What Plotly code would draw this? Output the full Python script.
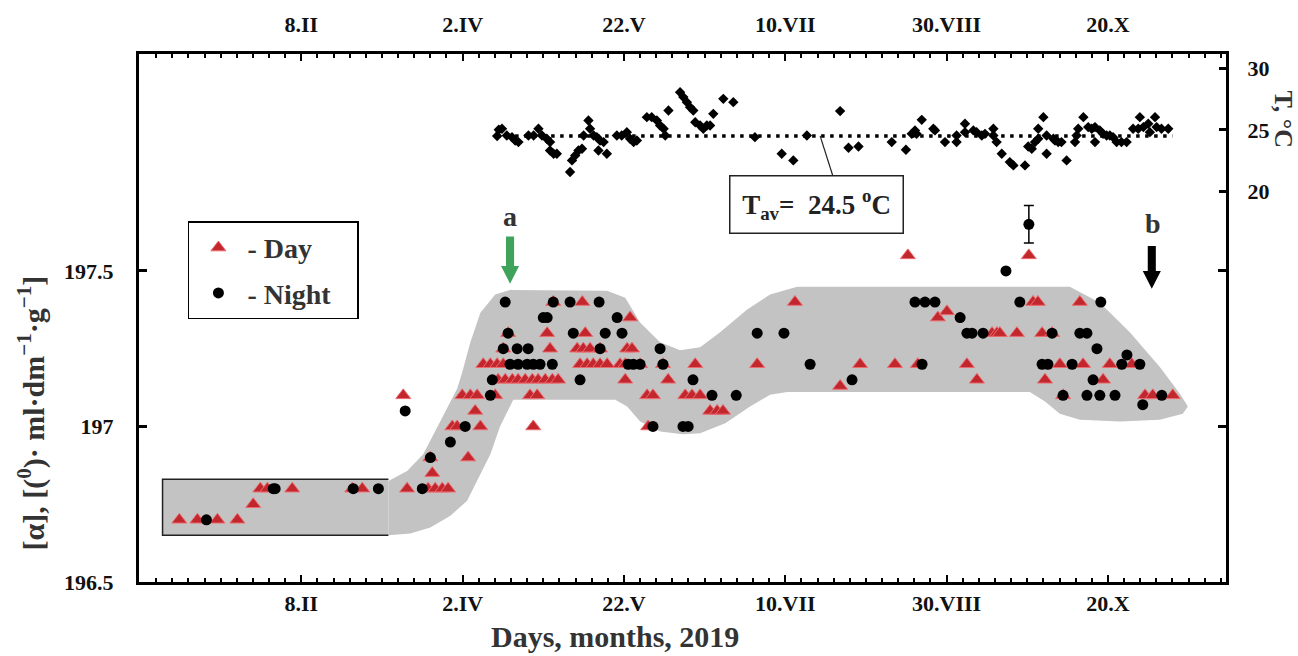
import plotly.graph_objects as go

# ---------------- data ----------------
tick_days = [40, 90, 140, 190, 240, 290]
tick_labels = ["8.II", "2.IV", "22.V", "10.VII", "30.VIII", "20.X"]
alpha_ticks = [196.5, 197, 197.5]
alpha_tick_labels = ["196.5", "197", "197.5"]
temp_ticks = [20, 25, 30]

# Day (triangles): (value, [days])
day_rows = [
    (196.70, [2.2, 7.8, 14.0, 20.2]),
    (196.75, [25.1]),
    (196.80, [27.3, 29.5, 37.2, 55.8, 58.9, 72.8, 79.3, 81.5, 83.7, 85.5]),
    (196.85, [80.6]),
    (196.90, [80.0, 91.7]),
    (197.00, [86.8, 88.3, 95.5, 111.9, 147.5]),
    (197.05, [93.9, 166.7, 168.9, 170.7]),
    (197.10, [71.6, 89.9, 92.4, 94.5, 100.1, 110.9, 113.1, 147.2, 149.0, 159.0, 161.1, 163.6,
              276.1, 301.5, 303.9, 310.1]),
    (197.13, [207.0]),
    (197.15, [101.0, 103.2, 105.4, 107.2, 109.4, 111.6, 113.4, 115.6, 117.8, 119.6, 140.4, 153.7,
              249.4, 270.5, 288.5]),
    (197.20, [96.4, 98.6, 100.7, 102.6, 126.4, 128.6, 130.5, 132.6, 134.8, 138.8, 140.4, 145.0,
              152.1, 162.1, 181.3, 213.2, 224.0, 231.1, 246.3, 275.1, 282.3, 290.6, 297.4]),
    (197.25, [102.6, 117.1, 125.5, 127.4, 129.5, 132.6, 141.0, 142.5]),
    (197.30, [104.1, 116.2, 128.0, 254.1, 255.6, 256.5, 261.8, 269.6, 272.7]),
    (197.35, [141.9, 237.3]),
    (197.37, [240.1]),
    (197.40, [118.1, 127.1, 193.0, 266.8, 268.3, 281.3]),
    (197.55, [228.0, 265.5]),
]

# Night (circles): (value, [days])
night_rows = [
    (196.70, [10.6]),
    (196.80, [31.3, 31.9, 56.1, 63.9, 77.5]),
    (196.90, [80.0]),
    (196.95, [86.2]),
    (197.00, [90.8, 149.0, 158.3, 159.9]),
    (197.05, [72.2]),
    (197.07, [300.8]),
    (197.10, [98.6, 167.3, 174.8, 276.1, 283.5, 287.5, 292.2, 306.7]),
    (197.15, [99.2, 126.4, 161.4, 210.7, 285.4]),
    (197.20, [104.7, 107.2, 110.0, 111.9, 114.0, 117.8, 141.3, 142.9, 145.0, 152.1,
              197.7, 232.4, 269.6, 271.4, 278.9, 294.3, 299.9]),
    (197.23, [295.9]),
    (197.25, [102.6, 106.9, 110.3, 132.6, 151.2, 286.6]),
    (197.30, [104.1, 124.3, 134.2, 139.4, 181.3, 189.6, 246.3, 247.9, 251.3, 272.7, 281.3, 283.5]),
    (197.35, [115.0, 116.2, 137.9, 244.2]),
    (197.40, [103.2, 118.1, 123.3, 132.3, 230.2, 233.3, 236.4, 262.7, 287.8]),
    (197.50, [258.4]),
]
night_err_day = [265.5]
night_err_val = [197.65]
night_err_size = [0.06]

# Temperature (right axis)
temp_day = [100.7, 101.2, 102.2, 103.7, 105.3, 106.3, 107.3, 110.4, 112.0, 113.5, 114.6, 116.1, 117.1,
            117.1, 118.2, 119.2, 123.3, 123.9, 124.9, 125.9, 127.0, 127.5, 129.0, 129.5, 130.6, 131.6,
            132.1, 132.6, 133.7, 134.7, 137.8, 139.3, 140.9, 141.9, 143.0, 144.0, 147.1, 148.6, 150.2,
            151.2, 152.3, 152.8, 153.8, 157.4, 158.4, 159.5, 160.5, 161.5, 162.1, 163.6, 164.6, 165.7,
            166.7, 167.7, 170.8, 173.9, 180.6, 188.9, 192.5, 196.7,
            207.0, 209.6, 212.7, 223.0, 227.4, 229.2, 230.2, 230.7, 232.3, 235.9, 236.4, 239.5, 243.1,
            243.1, 245.7, 245.7, 248.3, 249.3, 250.9, 251.9, 254.5, 254.5, 255.5, 257.1, 259.6, 260.7,
            264.3, 265.3, 266.4, 267.4, 268.4, 268.4, 270.0, 271.0, 271.0, 273.1, 273.6, 274.6, 275.6,
            277.2, 279.8, 280.3, 280.8, 282.4, 283.9, 285.0, 286.0, 286.0, 287.5, 288.5, 289.6, 290.6,
            291.6, 292.7, 294.2, 295.8, 297.8, 299.4, 299.9, 301.0, 302.5, 303.0, 304.6, 305.1, 306.6,
            308.7]
temp_val = [24.5, 25.0, 25.08, 24.54, 24.40, 24.13, 24.0, 24.54, 24.54, 25.08, 24.54, 24.27, 24.0,
            23.32, 23.05, 23.05, 21.56, 22.51, 22.91, 23.32, 23.46, 24.54, 25.76, 25.08, 24.54, 24.40,
            23.32, 24.13, 24.0, 23.05, 24.54, 24.54, 24.81, 24.27, 24.0, 24.13, 26.03, 26.03, 25.76,
            25.35, 25.08, 24.54, 26.57, 28.06, 27.66, 27.25, 26.84, 26.57, 25.62, 25.35, 25.08, 25.35,
            25.35, 26.30, 27.52, 27.25, 24.40, 23.05, 22.51, 24.54,
            26.52, 23.54, 23.64, 24.0, 23.37, 24.67, 24.95, 24.67, 25.81, 25.08, 24.95, 24.0, 24.0,
            24.54, 25.49, 24.81, 24.95, 24.81, 24.54, 24.67, 25.08, 24.54, 24.0, 23.05, 22.37, 22.10,
            22.10, 23.64, 23.46, 24.0, 24.27, 25.08, 26.03, 24.54, 23.05, 24.27, 24.13, 24.0, 24.0,
            22.51, 24.0, 24.54, 25.08, 26.03, 25.22, 25.08, 24.0, 25.22, 24.95, 24.67, 24.54, 24.54,
            24.40, 24.0, 24.0, 24.0, 25.08, 25.08, 26.03, 25.22, 25.49, 24.81, 26.03, 25.22, 25.08,
            25.08]
temp_avg = 24.5
temp_avg_span = [100.7, 310.0]

# Grey envelope of the data
band_day = [67.0, 72.8, 77.8, 83.1, 88.3, 89.9, 92.4, 95.5, 100.1, 104.7, 134.8, 140.4, 145.0,
            151.2, 157.4, 163.6, 169.8, 178.2, 185.3, 193.7, 278.2, 287.5, 296.8, 306.1, 312.3,
            314.8, 313.2, 306.1, 293.7, 281.3, 275.1, 270.5, 265.8, 190.6, 185.3, 179.1, 171.4,
            163.6, 158.3, 151.2, 145.0, 141.0, 137.3, 105.7, 103.8, 101.6, 98.6, 94.5, 91.4, 86.2,
            80.0, 73.8, 67.0]
band_val = [196.825, 196.857, 196.911, 197.016, 197.121, 197.175, 197.271, 197.366, 197.424,
            197.439, 197.436, 197.414, 197.334, 197.271, 197.245, 197.255, 197.303, 197.376,
            197.424, 197.449, 197.449, 197.398, 197.303, 197.191, 197.105, 197.064, 197.041,
            197.022, 197.016, 197.022, 197.041, 197.080, 197.111, 197.111, 197.102, 197.064,
            197.010, 196.978, 196.975, 196.984, 197.016, 197.064, 197.086, 197.086, 197.048,
            197.0, 196.911, 196.825, 196.761, 196.713, 196.675, 196.656, 196.650]
box_day = [-3.0, 67.0]
box_val = [196.65, 196.83]

# ---------------- figure ----------------
FONT = "Liberation Serif, Times New Roman, Tinos, DejaVu Serif, serif"
GREY = "#c3c3c3"
TXT = "#333333"
NB = "\u00a0"

day_x = [d for v, ds in day_rows for d in ds]
day_y = [v for v, ds in day_rows for d in ds]
night_x = [d for v, ds in night_rows for d in ds]
night_y = [v for v, ds in night_rows for d in ds]

fig = go.Figure()

fig.add_trace(go.Scatter(x=band_day, y=band_val, mode="lines", fill="toself", fillcolor=GREY,
                         line=dict(width=0, color=GREY), showlegend=False, hoverinfo="skip"))

fig.add_trace(go.Scatter(x=day_x, y=day_y, mode="markers", name="- Day", legendgroup="d",
                         marker=dict(symbol="triangle-up", size=13, color="#c1272d",
                                     line=dict(color="#ec6b6f", width=1))))
fig.add_trace(go.Scatter(x=night_x, y=night_y, mode="markers", name="- Night" + NB * 3,
                         legendgroup="n",
                         marker=dict(symbol="circle", size=11, color="black",
                                     line=dict(color="black", width=0))))
fig.add_trace(go.Scatter(x=night_err_day, y=night_err_val, mode="markers", showlegend=False,
                         marker=dict(symbol="circle", size=11, color="black"),
                         error_y=dict(type="data", array=night_err_size, color="black",
                                      thickness=1.5, width=5)))

fig.add_trace(go.Scatter(x=temp_avg_span, y=[temp_avg, temp_avg], mode="lines", yaxis="y2",
                         line=dict(color="black", width=3.5, dash="3.5px,5.5px"),
                         showlegend=False, hoverinfo="skip"))
fig.add_trace(go.Scatter(x=temp_day, y=temp_val, mode="markers", yaxis="y2", showlegend=False,
                         marker=dict(symbol="diamond", size=8, color="black")))
# top axis carrier
fig.add_trace(go.Scatter(x=temp_avg_span, y=[temp_avg, temp_avg], xaxis="x2", yaxis="y2",
                         mode="lines", line=dict(width=0), opacity=0, showlegend=False,
                         hoverinfo="skip"))

xr = [-10.3, 326.6]
minor_vals = list(range(-5, 326, 5))
tickfont = dict(family=FONT, size=22, color="#111111", weight="bold")
axis_common = dict(range=xr, tickmode="array", tickvals=tick_days, ticktext=tick_labels,
                   ticks="inside", ticklen=7, tickwidth=2, tickcolor="black",
                   showline=True, linecolor="black", linewidth=3, showgrid=False,
                   zeroline=False, tickfont=tickfont,
                   minor=dict(tickvals=minor_vals, ticks="inside", ticklen=4, tickwidth=2,
                              tickcolor="black", showgrid=False))

fig.update_layout(
    width=1298, height=656,
    margin=dict(l=139, r=72, t=49, b=74),
    plot_bgcolor="white", paper_bgcolor="white",
    xaxis=dict(**axis_common, side="bottom", ticklabelstandoff=0),
    xaxis2=dict(**axis_common, side="top", overlaying="x", anchor="y", ticklabelstandoff=10),
    yaxis=dict(range=[196.5, 196.5 + 533 / 314], tickmode="array", tickvals=alpha_ticks,
               ticktext=alpha_tick_labels, ticks="inside", ticklen=8, tickwidth=3,
               tickcolor="black", showline=True, linecolor="black", linewidth=3,
               mirror="ticks", showgrid=False, zeroline=False, tickfont=tickfont,
               ticklabelstandoff=18),
    yaxis2=dict(range=[-11.81, 31.17], overlaying="y", side="right", tickmode="array",
                tickvals=temp_ticks, ticks="inside", ticklen=7, tickwidth=3, tickcolor="black",
                showline=True, linecolor="black", linewidth=3, showgrid=False, zeroline=False,
                tickfont=tickfont, ticklabelstandoff=14),
    legend=dict(x=0.045, y=0.683, xanchor="left", yanchor="top", bgcolor="white",
                bordercolor="black", borderwidth=1.5,
                font=dict(family=FONT, size=28, color=TXT, weight="bold"),
                tracegroupgap=6, itemwidth=48),
    showlegend=True,
)

# start box (outlined on three sides)
fig.add_shape(type="rect", xref="x", yref="y", x0=box_day[0], x1=box_day[1],
              y0=box_val[0], y1=box_val[1], fillcolor=GREY, line=dict(width=0), layer="below")
fig.add_shape(type="path", xref="x", yref="y",
              path=(f"M {box_day[1]},{box_val[1]} L {box_day[0]},{box_val[1]} "
                    f"L {box_day[0]},{box_val[0]} L {box_day[1]},{box_val[0]}"),
              line=dict(color="#222222", width=1.5))


def arrow_path(xc, y_top, y_neck, y_tip, shaft_half, head_half):
    return (f"M {xc - shaft_half},{y_top} L {xc + shaft_half},{y_top} "
            f"L {xc + shaft_half},{y_neck} L {xc + head_half},{y_neck} L {xc},{y_tip} "
            f"L {xc - head_half},{y_neck} L {xc - shaft_half},{y_neck} Z")


fig.add_shape(type="path", xref="x", yref="y",
              path=arrow_path(104.7, 197.611, 197.516, 197.459, 1.25, 2.8),
              fillcolor="#3fa35c", line=dict(width=0))
fig.add_shape(type="path", xref="x", yref="y",
              path=arrow_path(303.6, 197.580, 197.500, 197.443, 1.25, 2.8),
              fillcolor="black", line=dict(width=0))

# callout line to the T_av box
fig.add_shape(type="line", xref="x", yref="y2", x0=200.8, y0=temp_avg, x1=204.8, y1=21.2,
              line=dict(color="#222222", width=1.2))

big = dict(family=FONT, size=28, color=TXT, weight="bold")
fig.add_annotation(x=199.8, y=18.9, xref="x", yref="y2", showarrow=False,
                   xanchor="center", yanchor="middle",
                   text="T<sub>av</sub>=  24.5 <sup>o</sup>C",
                   font=dict(family=FONT, size=27, color="#222222", weight="bold"),
                   bordercolor="#222222", borderwidth=1.5, borderpad=4, bgcolor="white",
                   width=164, height=48)
fig.add_annotation(x=104.7, y=197.675, xref="x", yref="y", showarrow=False, text="a",
                   xanchor="center", yanchor="middle", font=big)
fig.add_annotation(x=303.9, y=197.653, xref="x", yref="y", showarrow=False, text="b",
                   xanchor="center", yanchor="middle", font=big)

fig.add_annotation(x=0.438, y=-0.104, xref="paper", yref="paper", showarrow=False,
                   xanchor="center", yanchor="middle",
                   text="Days, months, 2019", font=dict(family=FONT, size=30, color=TXT,
                                                        weight="bold"))
fig.add_annotation(x=-0.0985, y=0.321, xref="paper", yref="paper", showarrow=False,
                   xanchor="center", yanchor="middle", textangle=-90,
                   text="[α], [(<sup>0</sup>)· ml·dm<sup>−1</sup>·g<sup>−1</sup>]",
                   font=dict(family=FONT, size=30, color=TXT, weight="bold"))
fig.add_annotation(x=1.0525, y=0.876, xref="paper", yref="paper", showarrow=False,
                   xanchor="center", yanchor="middle", textangle=90, text="T, °C",
                   font=dict(family=FONT, size=26, color=TXT, weight="bold"))

fig.write_html("out.html")
